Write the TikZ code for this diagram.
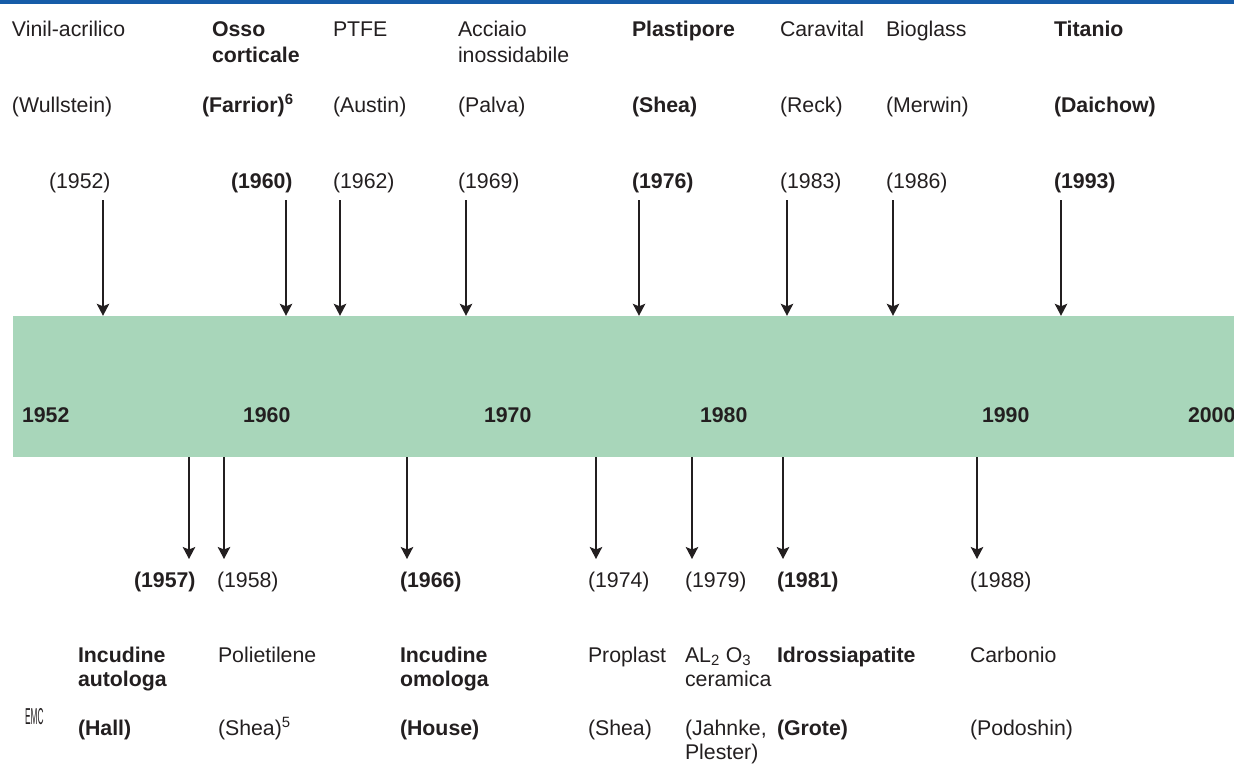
\documentclass[tikz,border=0pt]{standalone}
\usepackage{fontspec}
\setmainfont{Liberation Sans}
\usetikzlibrary{arrows.meta}
\definecolor{barfill}{RGB}{168,214,186}
\definecolor{topblue}{RGB}{22,92,168}
\definecolor{ink}{RGB}{35,31,32}
\tikzset{
  lbl/.style={anchor=base west, inner sep=0pt, outer sep=0pt, text=ink, font=\fontsize{21.3}{24}\selectfont},
  blbl/.style={lbl, font=\fontsize{21.3}{24}\selectfont\bfseries},
  arr/.style={draw=ink, line width=1.6pt, -{Stealth[length=12pt, width=12.5pt, inset=2.5pt]}},
}
\begin{document}
\begin{tikzpicture}[x=1pt, y=-1pt]
\useasboundingbox (0,0) rectangle (1234,763);
\fill[topblue] (0,0) rectangle (1234,3.5);
% bar
\node[fill=barfill, inner sep=0pt, minimum width=1221pt, minimum height=141pt] (bar) at (623.5,386.5) {};
% years in bar
\node[blbl] (y52) at (22,422) {1952};
\node[blbl] (y60) at (243,422) {1960};
\node[blbl] (y70) at (484,422) {1970};
\node[blbl] (y80) at (700,422) {1980};
\node[blbl] (y90) at (982,422) {1990};
\node[blbl] (y00) at (1188,422) {2000};
% top column 1
\node[lbl] (t1a) at (12,36) {Vinil-acrilico};
\node[lbl] (t1b) at (12,112) {(Wullstein)};
\node[lbl] (t1c) at (49,188) {(1952)};
% top column 2
\node[blbl] (t2a) at (212,36) {Osso};
\node[blbl] (t2a2) at (212,62) {corticale};
\node[blbl] (t2b) at (202,112) {(Farrior)\textsuperscript{6}};
\node[blbl] (t2c) at (231,188) {(1960)};
% top column 3
\node[lbl] (t3a) at (333,36) {PTFE};
\node[lbl] (t3b) at (333,112) {(Austin)};
\node[lbl] (t3c) at (333,188) {(1962)};
% top column 4
\node[lbl] (t4a) at (458,36) {Acciaio};
\node[lbl] (t4a2) at (458,62) {inossidabile};
\node[lbl] (t4b) at (458,112) {(Palva)};
\node[lbl] (t4c) at (458,188) {(1969)};
% top column 5
\node[blbl] (t5a) at (632,36) {Plastipore};
\node[blbl] (t5b) at (632,112) {(Shea)};
\node[blbl] (t5c) at (632,188) {(1976)};
% top column 6
\node[lbl] (t6a) at (780,36) {Caravital};
\node[lbl] (t6b) at (780,112) {(Reck)};
\node[lbl] (t6c) at (780,188) {(1983)};
% top column 7
\node[lbl] (t7a) at (886,36) {Bioglass};
\node[lbl] (t7b) at (886,112) {(Merwin)};
\node[lbl] (t7c) at (886,188) {(1986)};
% top column 8
\node[blbl] (t8a) at (1054,36) {Titanio};
\node[blbl] (t8b) at (1054,112) {(Daichow)};
\node[blbl] (t8c) at (1054,188) {(1993)};
% top arrow starts
\coordinate (s1) at (103,200);
\coordinate (s2) at (286,200);
\coordinate (s3) at (340,200);
\coordinate (s4) at (466,200);
\coordinate (s5) at (639,200);
\coordinate (s6) at (787,200);
\coordinate (s7) at (893,200);
\coordinate (s8) at (1061,200);
\foreach \i in {1,...,8} \draw[arr] (s\i) -- (s\i |- bar.north);
% bottom arrow ends
\coordinate (e1) at (189,559);
\coordinate (e2) at (224,559);
\coordinate (e3) at (407,559);
\coordinate (e4) at (596,559);
\coordinate (e5) at (692,559);
\coordinate (e6) at (783,559);
\coordinate (e7) at (977,559);
\foreach \i in {1,...,7} \draw[arr] (e\i |- bar.south) -- (e\i);
% bottom column 1
\node[blbl] (b1c) at (134,587) {(1957)};
\node[blbl] (b1a) at (78,662) {Incudine};
\node[blbl] (b1a2) at (78,686) {autologa};
\node[blbl] (b1b) at (78,735) {(Hall)};
% bottom column 2
\node[lbl] (b2c) at (217,587) {(1958)};
\node[lbl] (b2a) at (218,662) {Polietilene};
\node[lbl] (b2b) at (218,735) {(Shea)\textsuperscript{5}};
% bottom column 3
\node[blbl] (b3c) at (400,587) {(1966)};
\node[blbl] (b3a) at (400,662) {Incudine};
\node[blbl] (b3a2) at (400,686) {omologa};
\node[blbl] (b3b) at (400,735) {(House)};
% bottom column 4
\node[lbl] (b4c) at (588,587) {(1974)};
\node[lbl] (b4a) at (588,662) {Proplast};
\node[lbl] (b4b) at (588,735) {(Shea)};
% bottom column 5
\node[lbl] (b5c) at (685,587) {(1979)};
\node[lbl] (b5a) at (685,662) {AL\textsubscript{2} O\textsubscript{3}};
\node[lbl] (b5a2) at (685,686) {ceramica};
\node[lbl] (b5b) at (685,735) {(Jahnke,};
\node[lbl] (b5b2) at (685,759) {Plester)};
% bottom column 6
\node[blbl] (b6c) at (777,587) {(1981)};
\node[blbl] (b6a) at (777,662) {Idrossiapatite};
\node[blbl] (b6b) at (777,735) {(Grote)};
% bottom column 7
\node[lbl] (b7c) at (970,587) {(1988)};
\node[lbl] (b7a) at (970,662) {Carbonio};
\node[lbl] (b7b) at (970,735) {(Podoshin)};
% logo
\node[anchor=base west, inner sep=0pt, text=ink, font=\fontsize{23}{23}\selectfont] (logo) at (25,724) {\scalebox{0.36}[1]{EMC}};
\end{tikzpicture}
\end{document}
